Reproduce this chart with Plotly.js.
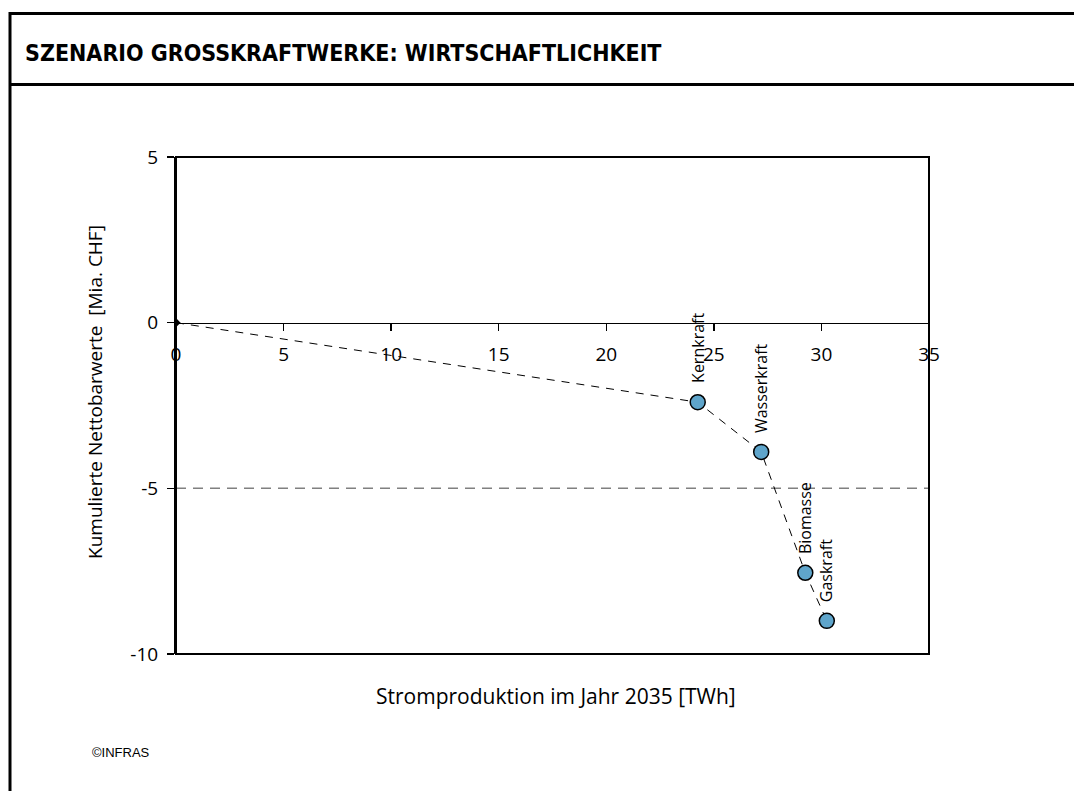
<!DOCTYPE html>
<html>
<head>
<meta charset="utf-8">
<script src="https://cdn.plot.ly/plotly-3.0.1.min.js"></script>
<style>html,body{margin:0;padding:0;background:#fff;}#chart{width:1074px;height:791px;}</style>
</head>
<body>
<div id="chart"></div>
<script>
// ---- data ----
const plants = ['Kernkraft', 'Wasserkraft', 'Biomasse', 'Gaskraft'];
const production = [24.25, 27.2, 29.25, 30.25];   // cumulative TWh in 2035
const npv = [-2.4, -3.9, -7.55, -9.0];            // cumulative net present value, Mia. CHF
const originX = [0];
const originY = [0];
const xTicks = [0, 5, 10, 15, 20, 25, 30, 35];
const yTicks = [-10, -5, 0, 5];
const refLevel = -5;
const chartTitle = 'SZENARIO GROSSKRAFTWERKE: WIRTSCHAFTLICHKEIT';
const xTitle = 'Stromproduktion im Jahr 2035 [TWh]';
const yTitle = 'Kumulierte Nettobarwerte&nbsp;&nbsp;[Mia. CHF]';
const source = '©INFRAS';

// ---- layout helpers (pixel -> paper) ----
const W = 1074, H = 791;
const L = 176, R = 929, T = 157, B = 654;
const px = x => (x - L) / (R - L);
const py = y => (B - y) / (B - T);

const baseFont = '"Open Sans", "Noto Sans", sans-serif';
const condFont = '"DejaVu Sans Condensed", "Liberation Sans Narrow", "Open Sans", sans-serif';

const lineX = originX.concat(production);
const lineY = originY.concat(npv);

const traces = [
  {
    x: lineX, y: lineY, mode: 'lines', type: 'scatter',
    line: {color: '#000', width: 1, dash: '8px,7px'},
    hoverinfo: 'skip', showlegend: false
  },
  {
    x: originX, y: originY, mode: 'markers', type: 'scatter',
    marker: {symbol: 'diamond', size: 7, color: '#000'},
    showlegend: false
  },
  {
    x: production, y: npv, mode: 'markers', type: 'scatter',
    text: plants,
    marker: {symbol: 'circle', size: 15, color: '#5fa5cb', line: {color: '#000', width: 1.5}},
    showlegend: false
  }
];

const annotations = plants.map((name, i) => ({
  x: production[i], y: npv[i], xref: 'x', yref: 'y',
  text: name, showarrow: false, textangle: -90,
  xanchor: 'center', yanchor: 'bottom', yshift: 17,
  font: {family: baseFont, size: 16, color: '#000'}
}));

annotations.push(
  {x: px(556), y: py(696), xref: 'paper', yref: 'paper', text: xTitle, showarrow: false,
   xanchor: 'center', yanchor: 'middle', font: {family: baseFont, size: 21, color: '#000'}},
  {x: px(95), y: py(392), xref: 'paper', yref: 'paper', text: yTitle, showarrow: false,
   textangle: -90, xanchor: 'center', yanchor: 'middle', font: {family: baseFont, size: 19, color: '#000'}},
  {x: px(90), y: py(752), xref: 'paper', yref: 'paper', text: source, showarrow: false,
   xanchor: 'left', yanchor: 'middle', font: {family: '"Liberation Sans", Arial, sans-serif', size: 13, color: '#000'}}
);

const shapes = [
  // outer frame lines
  {type: 'line', xref: 'paper', yref: 'paper', x0: px(10), x1: px(1080), y0: py(13.5), y1: py(13.5), line: {color: '#000', width: 3}},
  {type: 'line', xref: 'paper', yref: 'paper', x0: px(10), x1: px(1080), y0: py(84.5), y1: py(84.5), line: {color: '#000', width: 3}},
  {type: 'line', xref: 'paper', yref: 'paper', x0: px(10), x1: px(10), y0: py(12), y1: py(800), line: {color: '#000', width: 3}},
  // plot frame
  {type: 'rect', xref: 'paper', yref: 'paper', x0: 0, x1: 1, y0: 0, y1: 1, line: {color: '#000', width: 2}, layer: 'above'},
  // reference line
  {type: 'line', xref: 'paper', yref: 'y', x0: 0, x1: 1, y0: refLevel, y1: refLevel,
   line: {color: '#808080', width: 1.5, dash: '10px,7px'}, layer: 'below'}
];

const layout = {
  width: W, height: H,
  margin: {l: L, r: W - R, t: T, b: H - B, pad: 0},
  paper_bgcolor: '#fff', plot_bgcolor: '#fff',
  title: {
    text: '<b>' + chartTitle + '</b>', xref: 'container', yref: 'container',
    x: 25 / W, xanchor: 'left', y: 1 - 53 / H, yanchor: 'middle',
    font: {family: condFont, size: 23, color: '#000'}
  },
  xaxis: {
    range: [0, 35], anchor: 'free', position: 10 / 15,
    tickvals: xTicks, ticktext: xTicks.map(String),
    showline: true, linecolor: '#000', linewidth: 1.5,
    ticks: 'outside', ticklen: 7, tickcolor: '#000', tickwidth: 1.5,
    ticklabelstandoff: 7,
    showgrid: false, zeroline: false,
    tickfont: {family: baseFont, size: 19, color: '#000'}
  },
  yaxis: {
    range: [-10, 5], tickvals: yTicks, ticktext: yTicks.map(String),
    showline: true, linecolor: '#000', linewidth: 2,
    ticks: 'outside', ticklen: 7, tickcolor: '#000', tickwidth: 1.5,
    ticklabelstandoff: 5,
    showgrid: false, zeroline: false,
    tickfont: {family: baseFont, size: 19, color: '#000'}
  },
  annotations: annotations,
  shapes: shapes,
  showlegend: false
};

Plotly.newPlot('chart', traces, layout, {displayModeBar: false, staticPlot: true});
</script>
</body>
</html>
